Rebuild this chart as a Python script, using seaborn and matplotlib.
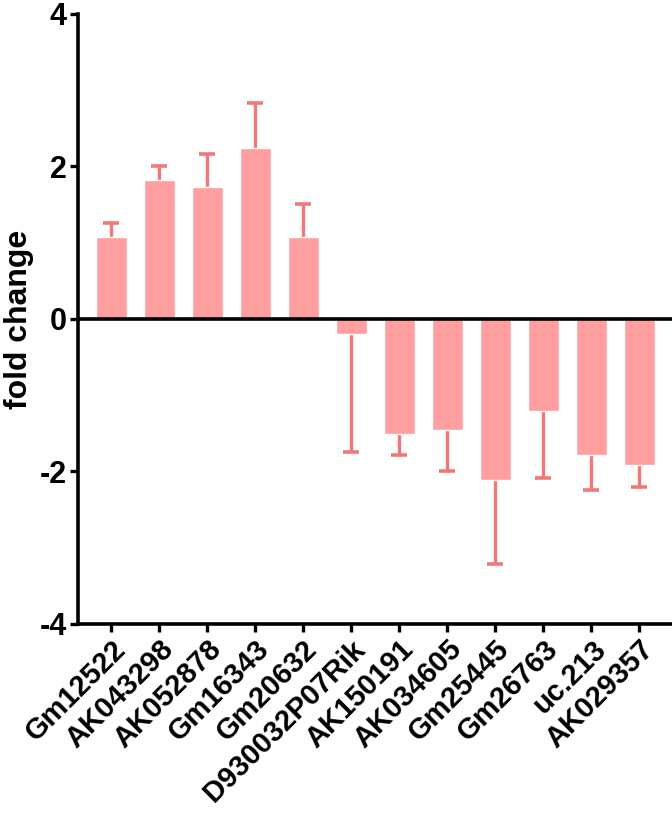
import numpy as np
import pandas as pd
import seaborn as sns
import matplotlib.pyplot as plt

# values
genes = ['Gm12522', 'AK043298', 'AK052878', 'Gm16343', 'Gm20632', 'D930032P07Rik',
         'AK150191', 'AK034605', 'Gm25445', 'Gm26763', 'uc.213', 'AK029357']
fold_change = [1.07, 1.82, 1.73, 2.24, 1.07, -0.20,
               -1.51, -1.46, -2.11, -1.21, -1.79, -1.92]
err = [0.19, 0.18, 0.43, 0.59, 0.44, 1.54,
       0.27, 0.53, 1.11, 0.87, 0.45, 0.29]
yticks = [-4, -2, 0, 2, 4]

bar_color = '#FF9F9F'
err_color = '#F27878'

sns.set_style('ticks')
plt.rcParams['font.family'] = ['Liberation Sans', 'DejaVu Sans']
plt.rcParams['font.weight'] = 'bold'
plt.rcParams['axes.unicode_minus'] = False
plt.rcParams['text.color'] = 'black'
plt.rcParams['axes.labelcolor'] = 'black'
plt.rcParams['xtick.color'] = 'black'
plt.rcParams['ytick.color'] = 'black'
plt.rcParams['axes.edgecolor'] = 'black'

df = pd.DataFrame({'gene': genes, 'fc': fold_change, 'err': err})

fig = plt.figure(figsize=(6.72, 8.15), dpi=100)
ax = fig.add_axes([0.116, 0.2344, 0.884, 0.7486])

sns.barplot(data=df, x='gene', y='fc', color=bar_color, saturation=1,
            width=0.645, ax=ax, zorder=3)

# one-sided error bars pointing away from zero
x = np.arange(len(genes))
vals = df['fc'].values
e = df['err'].values
sign = np.sign(vals)
tips = vals + sign * e
ax.vlines(x, vals, tips, color=err_color, lw=2.4, zorder=2)
ax.plot(x, tips, ls='none', marker='_', markersize=12, mew=2.6,
        color=err_color, zorder=2)

ax.axhline(0, color='black', lw=2.6, zorder=4)

ax.set_ylim(-4, 4)
ax.set_xlim(-0.69, 11.68)
ax.set_yticks(yticks)
ax.set_yticklabels([str(t) for t in yticks], fontsize=22, fontweight='bold')
ax.set_xticks(x)
ax.set_xticklabels(genes, rotation=45, ha='right', rotation_mode='anchor',
                   fontsize=21, fontweight='bold')
ax.set_xlabel('')
ax.set_ylabel('fold change', fontsize=23, fontweight='bold', labelpad=4)

sns.despine(ax=ax)
for s in ['left', 'bottom']:
    ax.spines[s].set_linewidth(2.6)
ax.tick_params(axis='both', width=2.4, length=6, pad=2)

plt.savefig('out.png', dpi=100)
